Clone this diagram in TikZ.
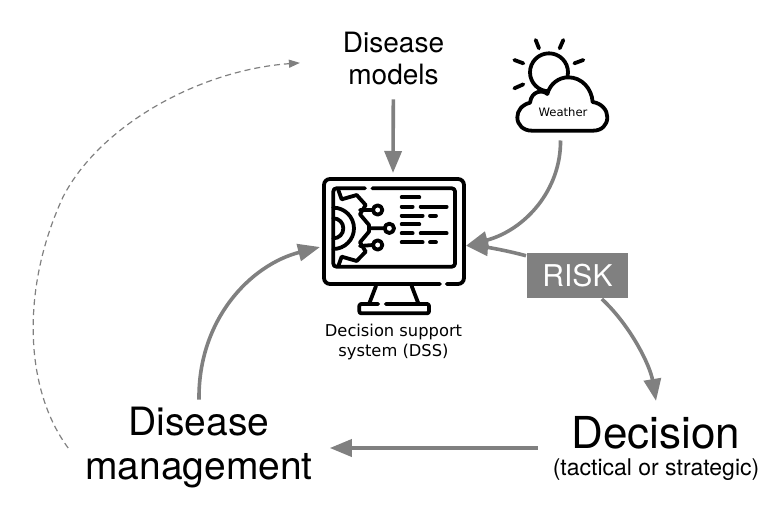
\documentclass[tikz,border=0pt]{standalone}
\usepackage{fontspec}
\setmainfont{TeX Gyre Heros}
\newfontfamily\dssfont{DejaVu Sans}
\usetikzlibrary{arrows.meta}
\definecolor{flowgray}{HTML}{808080}
\tikzset{
  flow/.style={draw=flowgray, line width=3.6pt, -{Triangle[length=22pt,width=17pt]}},
  feedback/.style={draw=flowgray, line width=1.2pt, dash pattern=on 6pt off 4pt, -{Triangle[length=11pt,width=8pt]}},
  icon/.style={line width=3.8pt, line cap=round, line join=round}
}
\begin{document}
\begin{tikzpicture}[x=1pt,y=-1pt]
\useasboundingbox (0,0) rectangle (781,504);
\begin{scope}[shift={(300,160)},x=0.3333pt,y=-0.3333pt,icon]
  \draw [rounded corners=6pt] (420,372) -- (72,372) -- (72,57) -- (492,57) -- (492,372) -- (440,372);
  \draw [rounded corners=3pt] (195,85) -- (100,85) -- (100,320) -- (465,320) -- (465,85) -- (217,85);
  \draw (228,378) -- (208,430);
  \draw (335,378) -- (355,430);
  \draw [rounded corners=2pt] (235,432) -- (178,432) -- (178,460) -- (387,460) -- (387,432) -- (257,432);
  \draw (305,112) -- (358,112);
  \draw (305,140) -- (338,140) (362,140) -- (440,140);
  \draw (305,167) -- (368,167) (390,167) -- (408,167);
  \draw (305,193) -- (358,193);
  \draw (305,220) -- (338,220) (362,220) -- (440,220);
  \draw (305,247) -- (368,247) (390,247) -- (408,247);
  \draw (115,90) -- (125,118) -- (170,105) -- (197,135) -- (180,163) -- (207,195) -- (207,215) -- (180,247) -- (197,275) -- (170,303) -- (125,290) -- (115,318);
  \draw (180,150) -- (219,150) (210,205) -- (254,205) (180,258) -- (219,255);
  \draw (233,150) circle (14) (268,205) circle (14) (233,255) circle (14);
  \draw (100,143) .. controls (134,143) and (162,171) .. (162,205) .. controls (162,239) and (134,267) .. (100,267);
  \draw (100,175) .. controls (117,175) and (130,188) .. (130,205) .. controls (130,222) and (117,235) .. (100,235);
\end{scope}
\begin{scope}[shift={(490,20)},x=0.3333pt,y=-0.3333pt,icon]
  \draw (177,157) circle (57);
  \draw (137,60) -- (147,85) (220,60) -- (209,85) (73,120) -- (100,130) (253,130) -- (280,120) (73,205) -- (100,193);
  \draw [fill=white] (125,332) -- (310,332) .. controls (335,332) and (352,315) .. (352,292) .. controls (352,270) and (335,250) .. (308,246) .. controls (305,205) and (275,172) .. (235,172) .. controls (205,172) and (180,192) .. (172,222) .. controls (160,210) and (125,210) .. (120,248) .. controls (95,255) and (82,272) .. (82,292) .. controls (82,315) and (100,332) .. (125,332) -- cycle;
\end{scope}
\node [align=center, font=\fontsize{28}{32}\selectfont, inner xsep=43pt, inner ysep=15pt, outer sep=0pt] (models) at (393.5,58) {Disease\\models};
\node [font=\dssfont\fontsize{11.6}{13}\selectfont, inner xsep=20pt, inner ysep=24pt, outer sep=0pt] (weather) at (563,112) {Weather};
\node [minimum width=138pt, minimum height=109pt, outer sep=4pt] (dssicon) at (393,231.5) {};
\node [align=center, font=\dssfont\fontsize{16.3}{20}\selectfont] (dsslabel) at (393.5,342) {Decision support\\system (DSS)};
\node [fill=flowgray, text=white, font=\fontsize{30}{32}\selectfont, minimum width=101pt, minimum height=45pt, inner sep=0pt, outer sep=1pt] (risk) at (577.5,275.5) {RISK};
\node [anchor=base, font=\fontsize{44}{48}\selectfont, inner xsep=34pt, inner ysep=15pt, outer sep=0pt] (decision) at (656,448) {Decision};
\node [font=\fontsize{23}{26}\selectfont] (tactical) at (656,470) {(tactical or strategic)};
\node [align=center, font=\fontsize{39}{44}\selectfont, inner xsep=17pt, inner ysep=8pt, outer sep=0pt] (mgmt) at (199,448) {Disease\\management};
\path [flow] (models) -- (dssicon.north);
\path [flow] (weather.265) .. controls (561,190) and (525,230) .. (dssicon.-11);
\path [flow] (risk.159) .. controls (505,250) and (485,247) .. (dssicon.-11);
\path [flow] (risk.-44) .. controls (630,325) and (650,365) .. (decision.north);
\path [flow] (decision.base west) -- (mgmt.east);
\path [flow] (mgmt.north) .. controls (198,320) and (250,265) .. (dssicon.192);
\path [feedback] (mgmt.west) .. controls (25,390) and (20,290) .. (63,197) .. controls (100,125) and (200,70) .. (models.183);
\end{tikzpicture}
\end{document}
